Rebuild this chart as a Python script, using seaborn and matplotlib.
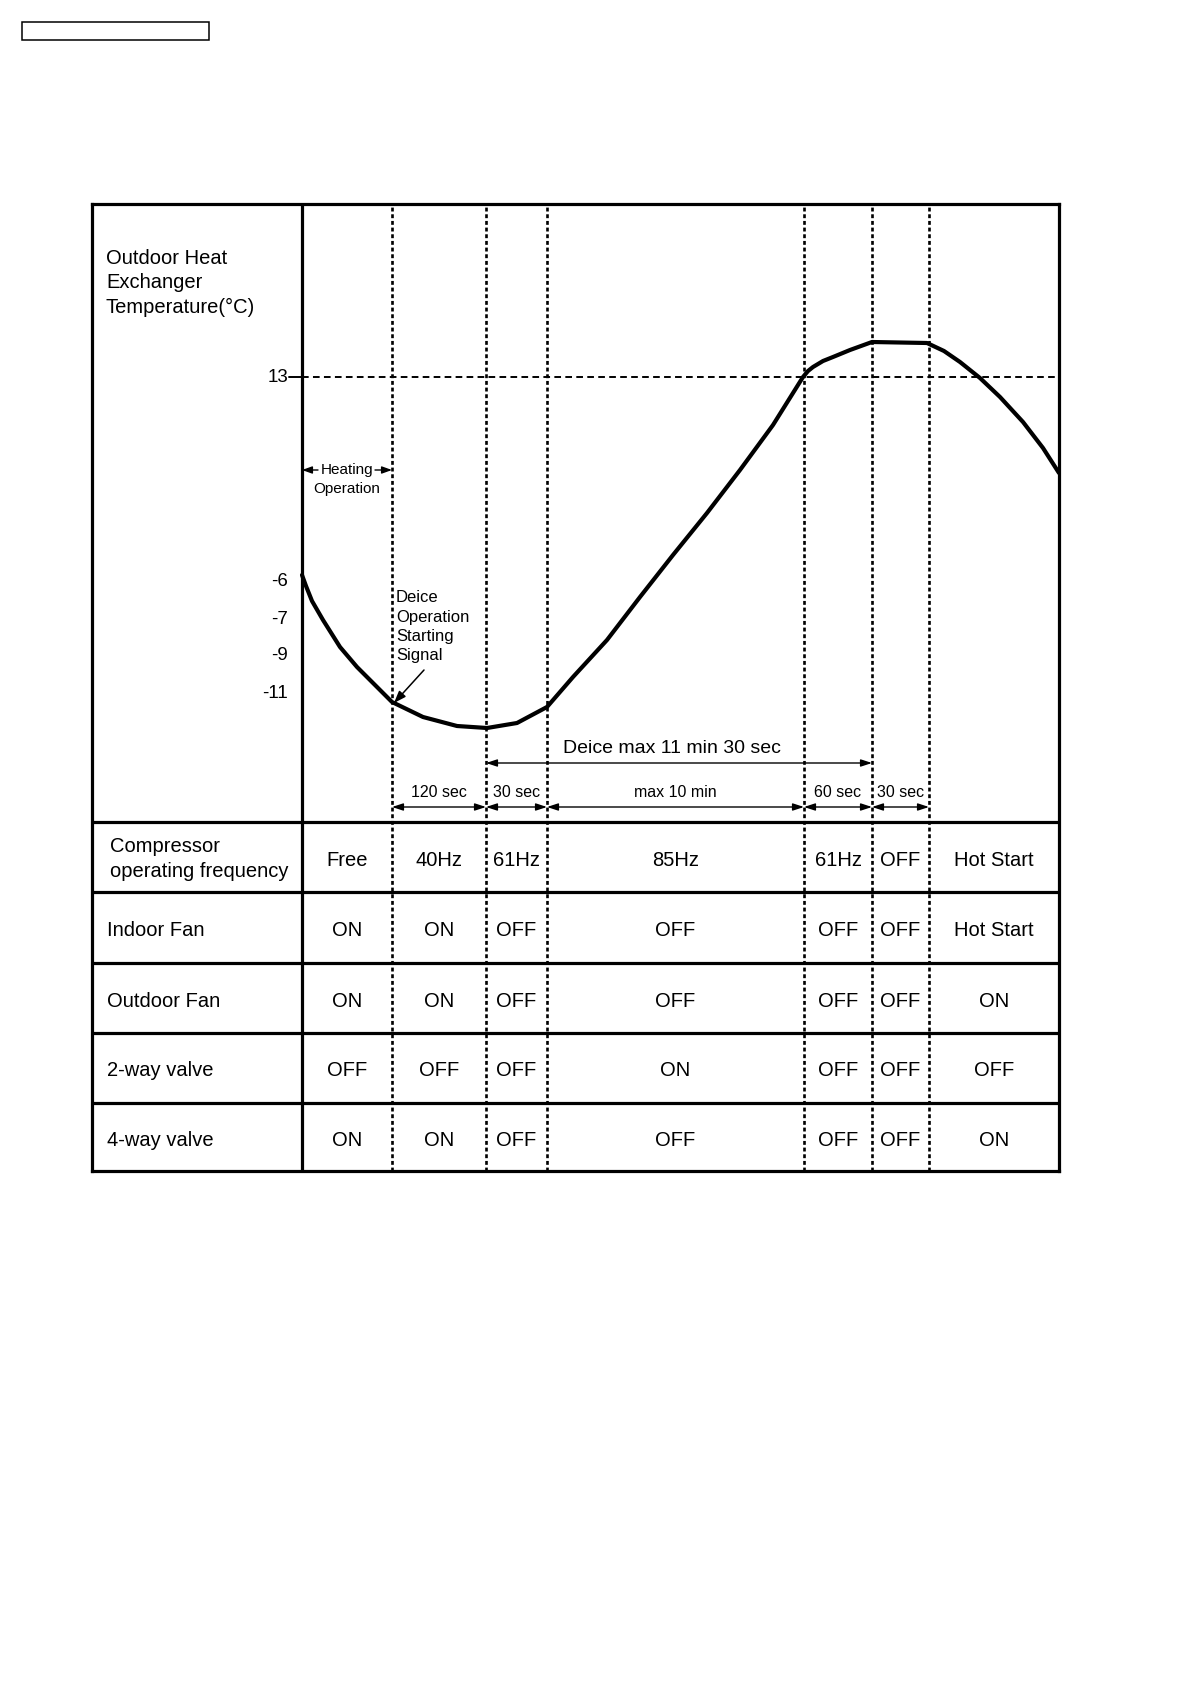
import matplotlib
matplotlib.use("Agg")
import matplotlib.pyplot as plt
from matplotlib.patches import Rectangle
import seaborn as sns
import pandas as pd

# ---------------- data (schematic units) ----------------
# phase boundaries along the time axis (0 = start of chart)
phase_edges = [0, 90, 184, 245, 502, 570, 627, 757]
label_col_left = -210

# outdoor heat exchanger temperature curve (schematic position)
curve_x = [0, 4, 10, 21, 38, 55, 71, 90, 121, 155, 185, 215, 245, 271, 305,
           338, 371, 405, 438, 471, 501, 506, 511, 521, 531, 548, 570, 625,
           642, 658, 678, 698, 721, 741, 757]
curve_y = [596, 585, 570, 551, 524, 504, 488, 469, 454, 445, 443, 448, 464,
           494, 531, 574, 616, 658, 701, 746, 794, 800, 804, 810, 814, 821,
           829, 828, 820, 809, 793, 774, 749, 723, 698]

# temperature tick labels and their schematic positions
temp_labels = ["13", "-6", "-7", "-9", "-11"]
temp_pos = [794, 589, 552, 516, 478]

# duration labels of the phases (phase index)
dur_labels = ["120 sec", "30 sec", "max 10 min", "60 sec", "30 sec"]
dur_phase = [1, 2, 3, 4, 5]

# table rows
row_names = ["Compressor\noperating frequency", "Indoor Fan", "Outdoor Fan",
             "2-way valve", "4-way valve"]
compressor = ["Free", "40Hz", "61Hz", "85Hz", "61Hz", "OFF", "Hot Start"]
indoor_fan = ["ON", "ON", "OFF", "OFF", "OFF", "OFF", "Hot Start"]
outdoor_fan = ["ON", "ON", "OFF", "OFF", "OFF", "OFF", "ON"]
two_way = ["OFF", "OFF", "OFF", "ON", "OFF", "OFF", "OFF"]
four_way = ["ON", "ON", "OFF", "OFF", "OFF", "OFF", "ON"]
row_edges = [349, 279, 208, 138, 68, 0]   # row top edges ... table bottom
chart_top = 967

# ---------------- style ----------------
sns.set_theme(style="white")
plt.rcParams['font.family'] = ['Liberation Sans', 'DejaVu Sans']
plt.rcParams['lines.scale_dashes'] = False
plt.rcParams['text.color'] = 'black'

W, H = 1190, 1684
fig = plt.figure(figsize=(W / 100, H / 100), dpi=100)
ax = fig.add_axes([92 / W, 1 - 1171 / H, 967 / W, 967 / H])
ax.set_xlim(label_col_left, phase_edges[-1])
ax.set_ylim(0, chart_top)
ax.set_xticks([])
ax.set_yticks([])
for s in ax.spines.values():
    s.set_visible(True)
    s.set_color("black")
    s.set_linewidth(2.3)

# small header box top-left
fig.add_artist(Rectangle((22 / W, 1 - 40 / H), 187 / W, 18 / H,
                         transform=fig.transFigure, fill=False,
                         edgecolor="black", linewidth=1.1))

# label column divider
ax.plot([0, 0], [0, chart_top], color="black", lw=2.3, solid_capstyle="butt")
# row lines
for y in row_edges[:-1]:
    ax.plot([label_col_left, phase_edges[-1]], [y, y], color="black", lw=2.3,
            solid_capstyle="butt")

# vertical dotted phase lines
for x in phase_edges[1:-1]:
    ax.plot([x, x], [0, chart_top], color="black", lw=1.9,
            linestyle=(0, (2.8, 2.0)))

# 13 degree dashed reference line with tick
ax.plot([0, phase_edges[-1]], [temp_pos[0], temp_pos[0]], color="black",
        lw=1.4, linestyle=(0, (4.8, 3.1)))
ax.plot([-13, 0], [temp_pos[0], temp_pos[0]], color="black", lw=1.4)

# temperature curve
df = pd.DataFrame({"t": curve_x, "temp": curve_y})
sns.lineplot(data=df, x="t", y="temp", ax=ax, color="black", lw=3.0,
             sort=False, estimator=None)
ax.set_xlabel("")
ax.set_ylabel("")

# temperature tick labels
for lab, p in zip(temp_labels, temp_pos):
    ax.text(-14, p, lab, ha="right", va="center", fontsize=13.5)

# axis title
for i, line in enumerate(["Outdoor Heat", "Exchanger", "Temperature(°C)"]):
    ax.text(-196, 913 - i * 24.5, line, ha="left", va="center", fontsize=14.5)

# heating operation annotation
ax.text(45, 701, "Heating", ha="center", va="center", fontsize=11)
ax.text(45, 682, "Operation", ha="center", va="center", fontsize=11)
ap = dict(arrowstyle="-|>,head_length=0.5,head_width=0.18", color="black",
          lw=1.0, shrinkA=0, shrinkB=0)
ax.annotate("", xy=(0, 701), xytext=(16, 701), arrowprops=ap)
ax.annotate("", xy=(90, 701), xytext=(73, 701), arrowprops=ap)

# deice start signal
for i, line in enumerate(["Deice", "Operation", "Starting", "Signal"]):
    ax.text(94, 573 - i * 19.3, line, ha="left", va="center", fontsize=12)
ax.annotate("", xy=(92, 468), xytext=(122, 501),
            arrowprops=dict(arrowstyle="-|>,head_length=0.6,head_width=0.22",
                            color="black", lw=1.1, shrinkA=0, shrinkB=0))

# deice max arrow
dap = dict(arrowstyle="<|-|>,head_length=0.55,head_width=0.18", color="black",
           lw=1.0, shrinkA=0, shrinkB=0)
ax.annotate("", xy=(phase_edges[2], 408), xytext=(phase_edges[5], 408),
            arrowprops=dap)
ax.text(370, 423, "Deice max 11 min 30 sec", ha="center", va="center",
        fontsize=14)

# phase duration arrows
for lab, k in zip(dur_labels, dur_phase):
    x0, x1 = phase_edges[k], phase_edges[k + 1]
    ax.annotate("", xy=(x0, 364), xytext=(x1, 364), arrowprops=dap)
    ax.text((x0 + x1) / 2, 379, lab, ha="center", va="center", fontsize=11.5)

# table
rows = [compressor, indoor_fan, outdoor_fan, two_way, four_way]
tops = row_edges[:-1]
bottoms = row_edges[1:]
for name, vals, top, bot in zip(row_names, rows, tops, bottoms):
    yc = (top + bot) / 2 - 3
    if "\n" in name:
        l1, l2 = name.split("\n")
        ax.text(-192, yc + 14, l1, ha="left", va="center", fontsize=14.5)
        ax.text(-192, yc - 11, l2, ha="left", va="center", fontsize=14.5)
    else:
        ax.text(-195, yc, name, ha="left", va="center", fontsize=14.5)
    for j, v in enumerate(vals):
        xc = (phase_edges[j] + phase_edges[j + 1]) / 2
        ax.text(xc, yc, v, ha="center", va="center", fontsize=14.5)

fig.savefig("out.png", dpi=100, facecolor="white")
